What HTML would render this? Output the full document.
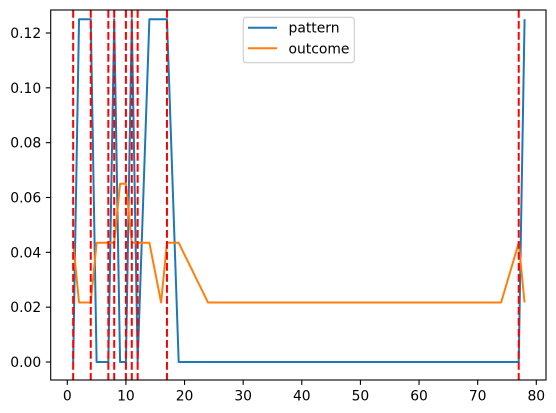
<!DOCTYPE html>
<html><head><meta charset="utf-8"><style>
html,body{margin:0;padding:0;background:#fff;}
svg{display:block;font-family:"DejaVu Sans","Liberation Sans",sans-serif;}
</style></head><body>
<svg id="chart" width="556" height="413"></svg>
<script>
const xValues = [1,2,3,4,5,6,7,8,9,10,11,12,13,14,15,16,17,18,19,20,21,22,23,24,74,75,76,77,78];
const patternValues = [0,0.125,0.125,0.125,0,0,0,0.125,0,0,0.125,0,0.0625,0.125,0.125,0.125,0.125,0.0625,0,0,0,0,0,0,0,0,0,0,0.125];
const outcomeValues = [0.0435,0.0217,0.0217,0.0217,0.0435,0.0435,0.0435,0.0435,0.065,0.065,0.0435,0.0435,0.0435,0.0435,0.0326,0.0217,0.0435,0.0435,0.0435,0.0391,0.0348,0.0304,0.0261,0.0217,0.0217,0.029,0.0362,0.0435,0.0217];
const markerXs = [1,4,7,8,10,11,12,17,77];
const xTicks = [0,10,20,30,40,50,60,70,80];
const yTicks = [0,0.02,0.04,0.06,0.08,0.10,0.12];
const yTickLabels = ["0.00","0.02","0.04","0.06","0.08","0.10","0.12"];

const NS="http://www.w3.org/2000/svg";
const svg=document.getElementById('chart');
const L=50.7,R=546,T=10,B=380;
const sx=v=>67.3+v*5.8625;
const sy=v=>362-v*2741.7;
function mk(tag,attrs,parent){const e=document.createElementNS(NS,tag);for(const k in attrs)e.setAttribute(k,attrs[k]);(parent||svg).appendChild(e);return e;}

const clip=mk('clipPath',{id:'pc'});mk('rect',{x:L,y:T,width:R-L,height:B-T},clip);

const pPts=xValues.map((x,i)=>sx(x)+','+sy(patternValues[i])).join(' ');
const pl=mk('polyline',{points:pPts,fill:'none',stroke:'#1f77b4','stroke-width':2,'stroke-linejoin':'round','clip-path':'url(#pc)'});


const oPts=xValues.map((x,i)=>sx(x)+','+sy(outcomeValues[i])).join(' ');
const ol=mk('polyline',{points:oPts,fill:'none',stroke:'#ff7f0e','stroke-width':2,'stroke-linejoin':'round','clip-path':'url(#pc)'});



markerXs.forEach(x=>{
  const l=mk('line',{x1:sx(x),x2:sx(x),y1:T,y2:B,stroke:'#ff0000','stroke-width':2,'stroke-dasharray':'7.7,3.3'});
  
  
});

const fr=mk('rect',{x:L,y:T,width:R-L,height:B-T,fill:'none',stroke:'#000','stroke-width':1.1});



xTicks.forEach(v=>{
  mk('line',{x1:sx(v),x2:sx(v),y1:B,y2:B+4.9,stroke:'#000','stroke-width':1.1});
  const t=mk('text',{x:sx(v),y:B+20.5,'text-anchor':'middle','font-size':13.9,fill:'#000'});
  t.textContent=v;
  
  
});
yTicks.forEach((v,i)=>{
  mk('line',{x1:L-4.9,x2:L,y1:sy(v),y2:sy(v),stroke:'#000','stroke-width':1.1});
  const t=mk('text',{x:L-9.5,y:sy(v)+5,'text-anchor':'end','font-size':13.9,fill:'#000'});
  t.textContent=yTickLabels[i];
  
  
});

const lg=mk('g',{});


mk('rect',{x:243.3,y:17.3,width:111,height:45.4,rx:3,fill:'#fff','fill-opacity':0.8,stroke:'#ccc','stroke-width':1.1},lg);
[['pattern','#1f77b4',27.7],['outcome','#ff7f0e',48.3]].forEach(([n,c,y])=>{
  const g=mk('g',{},lg);
  
  
  mk('line',{x1:248,x2:277,y1:y,y2:y,stroke:c,'stroke-width':2},g);
  const t=mk('text',{x:288.5,y:y+5,'font-size':13.9,fill:'#000'},g);
  t.textContent=n;
});
</script>
</body></html>
